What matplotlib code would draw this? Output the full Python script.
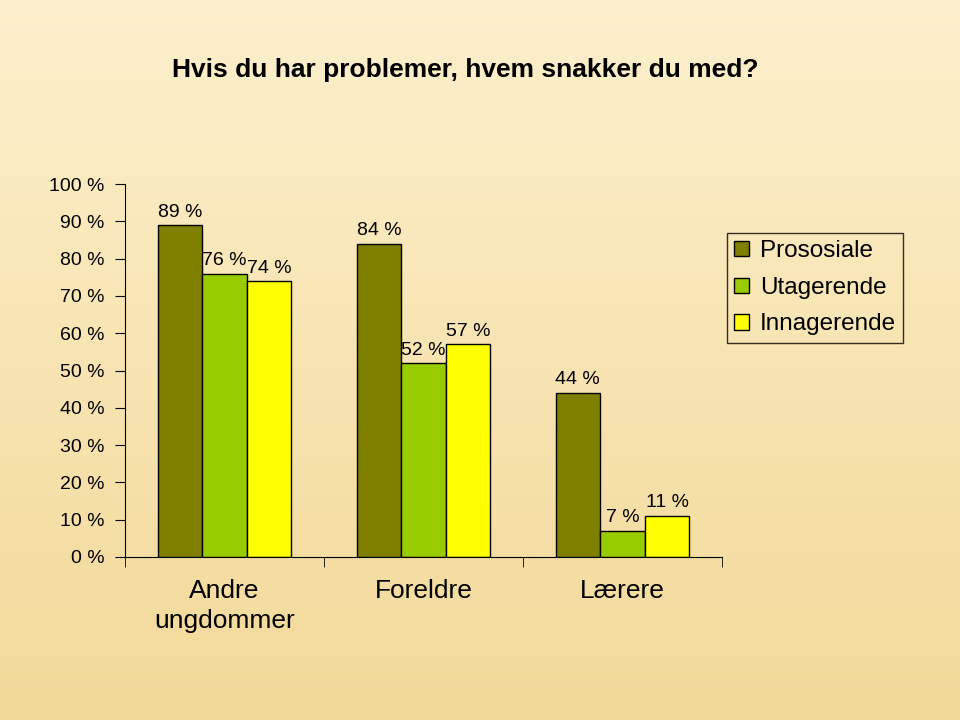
import numpy as np
import matplotlib
matplotlib.use("Agg")
import matplotlib.pyplot as plt
from matplotlib import font_manager
from matplotlib.patches import Patch

categories = ["Andre\nungdommer", "Foreldre", "Lærere"]
series_names = ["Prososiale", "Utagerende", "Innagerende"]
prososiale = [89, 84, 44]
utagerende = [76, 52, 7]
innagerende = [74, 57, 11]
colors = ["#808000", "#99CC00", "#FFFF00"]
yticks = list(range(0, 101, 10))

names = {f.name for f in font_manager.fontManager.ttflist}
base = "Liberation Sans" if "Liberation Sans" in names else "DejaVu Sans"
narrow = "Liberation Sans Narrow" if "Liberation Sans Narrow" in names else base
plt.rcParams["font.family"] = [base, "DejaVu Sans"]

fig = plt.figure(figsize=(9.6, 7.2), dpi=100)

# background gradient
bg = fig.add_axes([0, 0, 1, 1], zorder=-10)
grad = np.linspace(0, 1, 256).reshape(-1, 1)
top = np.array([0.99, 0.94, 0.80])
bot = np.array([0.95, 0.85, 0.60])
img = top[None, None, :] * (1 - grad[:, :, None]) + bot[None, None, :] * grad[:, :, None]
img = np.repeat(img, 4, axis=1)
bg.imshow(img, aspect="auto", extent=[0, 1, 0, 1])
bg.set_axis_off()

ax = fig.add_axes([0.1302, 0.2264, 0.752 - 0.1302, 0.7444 - 0.2264])
ax.patch.set_alpha(0)
x = np.arange(len(categories))
w = 0.224
data = [prososiale, utagerende, innagerende]
for i, (vals, c, name) in enumerate(zip(data, colors, series_names)):
    bars = ax.bar(x + (i - 1) * w, vals, width=w, color=c, edgecolor="black", linewidth=1.0, label=name)
    for b, v in zip(bars, vals):
        ax.text(b.get_x() + b.get_width() / 2, v + 1.2, f"{v} %", ha="center", va="bottom", fontsize=14)

ax.set_xlim(-0.5, 2.5)
ax.set_ylim(0, 100)
ax.set_yticks(yticks)
ax.set_yticklabels([f"{t} %" for t in yticks], fontsize=14)
ax.tick_params(axis="y", direction="out", length=7, pad=8)
ax.set_xticks(x)
ax.set_xticklabels(categories, fontsize=19, linespacing=1.3)
ax.set_xticks([-0.5, 0.5, 1.5, 2.5], minor=True)
ax.tick_params(axis="x", which="major", length=0, pad=16)
ax.tick_params(axis="x", which="minor", direction="out", length=7)
for s in ["top", "right"]:
    ax.spines[s].set_visible(False)

handles = [Patch(facecolor=c, edgecolor="black", label=n) for c, n in zip(colors, series_names)]
leg = fig.legend(handles=handles, loc="upper left", bbox_to_anchor=(727 / 960, 1 - 233 / 720),
                 fontsize=17.5, frameon=True, fancybox=False, edgecolor="black",
                 handlelength=0.6, handleheight=0.6, handletextpad=0.45, labelspacing=0.6,
                 borderpad=0.3, borderaxespad=0)
leg.get_frame().set_facecolor("none")
leg.get_frame().set_linewidth(1.0)

fig.text(465 / 960, 1 - 70 / 720, "Hvis du har problemer, hvem snakker du med?", ha="center", va="center",
         fontsize=19, fontweight="bold", family=[narrow, "DejaVu Sans"])

fig.savefig("out.png", dpi=100)
